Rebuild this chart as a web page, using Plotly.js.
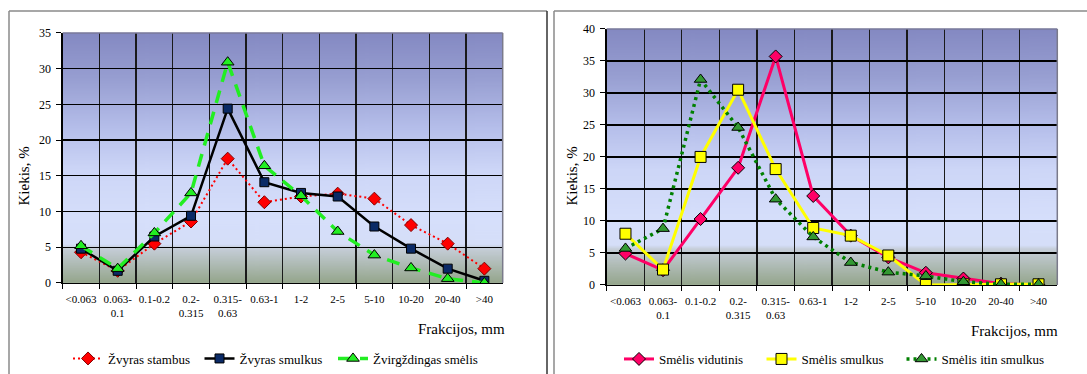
<!DOCTYPE html>
<html>
<head>
<meta charset="utf-8">
<script src="https://cdn.plot.ly/plotly-3.0.1.min.js"></script>
<style>
  html, body { margin: 0; padding: 0; background: #ffffff; }
  #chart { width: 1087px; height: 374px; }
</style>
</head>
<body>
<div id="chart"></div>
<script>
// ---------------- DATA ----------------
const categories = ['&lt;0.063', '0.063-<br>0.1', '0.1-0.2', '0.2-<br>0.315', '0.315-<br>0.63',
                    '0.63-1', '1-2', '2-5', '5-10', '10-20', '20-40', '&gt;40'];

// Left chart
const zvyrasStambus   = [4.3, 1.7, 5.5, 8.6, 17.4, 11.3, 12.1, 12.5, 11.8, 8.1, 5.5, 2.0];
const zvyrasSmulkus   = [4.8, 1.7, 6.5, 9.4, 24.4, 14.1, 12.6, 12.1, 7.9, 4.8, 2.0, 0.3];
const zvirgzdSmelis   = [5.2, 2.0, 7.0, 12.6, 30.9, 16.4, 12.2, 7.2, 3.9, 2.1, 0.6, 0.0];

// Right chart
const smelisVidutinis = [4.9, 2.3, 10.3, 18.3, 35.7, 13.9, 7.7, 4.3, 1.9, 1.0, 0.2, 0.0];
const smelisSmulkus   = [8.0, 2.4, 20.0, 30.5, 18.1, 8.9, 7.7, 4.6, 0.0, 0.1, 0.1, 0.1];
const smelisItin      = [5.7, 8.8, 32.1, 24.6, 13.4, 7.5, 3.5, 2.0, 1.4, 0.5, 0.1, 0.1];

const names = {
  l1: 'Žvyras stambus', l2: 'Žvyras smulkus', l3: 'Žvirgždingas smėlis',
  r1: 'Smėlis vidutinis', r2: 'Smėlis smulkus', r3: 'Smėlis itin smulkus'
};
const yTitle = 'Kiekis, %';
const xTitle = 'Frakcijos, mm';

// ---------------- HELPERS ----------------
const W = 1087, H = 374;
const px = v => v / W;
const py = v => 1 - v / H;

function gradientURL() {
  const c = document.createElement('canvas');
  c.width = 8; c.height = 400;
  const g = c.getContext('2d');
  const grd = g.createLinearGradient(0, 0, 0, 400);
  grd.addColorStop(0.00, '#8489C2');
  grd.addColorStop(0.18, '#979ED1');
  grd.addColorStop(0.38, '#B5BEEA');
  grd.addColorStop(0.55, '#CDD6F7');
  grd.addColorStop(0.75, '#D6DFFB');
  grd.addColorStop(0.845, '#D5DEF8');
  grd.addColorStop(0.86, '#C6CED9');
  grd.addColorStop(1.00, '#94A58B');
  g.fillStyle = grd;
  g.fillRect(0, 0, 8, 400);
  return c.toDataURL('image/png');
}
const bg = gradientURL();

const font = '"Liberation Serif", "Times New Roman", Times, serif';

function xAxis(domain, anchor) {
  return {
    domain: domain, anchor: anchor, type: 'category',
    range: [-0.5, 11.5], tickson: 'boundaries',
    showgrid: true, gridcolor: '#1a1a1a', gridwidth: 1.4,
    showline: true, linecolor: '#000', linewidth: 1.4,
    ticks: 'outside', ticklen: 5, tickcolor: '#000', tickwidth: 1,
    tickfont: { family: font, size: 11, color: '#000' },
    ticklabelstandoff: 5,
    tickangle: 0, automargin: false, fixedrange: true, zeroline: false
  };
}
function yAxis(domain, anchor, max) {
  return {
    domain: domain, anchor: anchor, range: [0, max], dtick: 5, tick0: 0,
    showgrid: true, gridcolor: '#000', gridwidth: 1.4,
    showline: true, linecolor: '#000', linewidth: 1.4,
    ticks: 'outside', ticklen: 5, tickcolor: '#000', tickwidth: 1,
    tickfont: { family: font, size: 12, color: '#000' },
    ticklabelstandoff: 3,
    automargin: false, fixedrange: true, zeroline: false
  };
}

// ---------------- TRACES ----------------
const traces = [
  { x: categories, y: zvyrasStambus, name: names.l1, xaxis: 'x', yaxis: 'y', legend: 'legend',
    mode: 'lines+markers', line: { color: '#FF0000', width: 2, dash: '2px,3px' },
    marker: { symbol: 'diamond', size: 10, color: '#FF0000', line: { color: '#800000', width: 1 } } },
  { x: categories, y: zvyrasSmulkus, name: names.l2, xaxis: 'x', yaxis: 'y', legend: 'legend2',
    mode: 'lines+markers', line: { color: '#000000', width: 2.5 },
    marker: { symbol: 'square', size: 9, color: '#0A2A66', line: { color: '#000', width: 1 } } },
  { x: categories, y: zvirgzdSmelis, name: names.l3, xaxis: 'x', yaxis: 'y', legend: 'legend3',
    mode: 'lines+markers', line: { color: '#22EE22', width: 3.5, dash: '13px,9px' },
    marker: { symbol: 'triangle-up', size: 11, color: '#22EE22', line: { color: '#000', width: 1 } } },

  { x: categories, y: smelisVidutinis, name: names.r1, xaxis: 'x2', yaxis: 'y2', legend: 'legend4',
    mode: 'lines+markers', line: { color: '#FF0066', width: 3 },
    marker: { symbol: 'diamond', size: 10, color: '#FF0066', line: { color: '#000', width: 1 } } },
  { x: categories, y: smelisSmulkus, name: names.r2, xaxis: 'x2', yaxis: 'y2', legend: 'legend5',
    mode: 'lines+markers', line: { color: '#FFFF00', width: 3 },
    marker: { symbol: 'square', size: 11, color: '#FFFF00', line: { color: '#000', width: 1 } } },
  { x: categories, y: smelisItin, name: names.r3, xaxis: 'x2', yaxis: 'y2', legend: 'legend6',
    mode: 'lines+markers', line: { color: '#008000', width: 3.5, dash: '3px,4px' },
    marker: { symbol: 'triangle-up', size: 11, color: '#339933', line: { color: '#000', width: 1 } } }
];

// ---------------- LAYOUT ----------------
const leftX = [px(62.7), px(502.7)], leftY = [py(283.7), py(33)];
const rightX = [px(606.7), px(1057.3)], rightY = [py(285.7), py(29)];

function line(x0, y0, x1, y1, color, w) {
  return { type: 'line', xref: 'paper', yref: 'paper', x0: px(x0), y0: py(y0), x1: px(x1), y1: py(y1),
           line: { color: color, width: w }, layer: 'above' };
}
function plotBorder(xr, yr) {
  return [
    { type: 'line', xref: xr + ' domain', yref: yr + ' domain', x0: 0, x1: 1, y0: 1, y1: 1,
      line: { color: '#7A7A9A', width: 1.5 }, layer: 'above' },
    { type: 'line', xref: xr + ' domain', yref: yr + ' domain', x0: 1, x1: 1, y0: 0, y1: 1,
      line: { color: '#7A7A8A', width: 1.5 }, layer: 'above' }
  ];
}

function legendAt(xpx, ypx) {
  return {
    orientation: 'h', xref: 'paper', yref: 'paper', xanchor: 'left', yanchor: 'middle',
    x: px(xpx), y: py(ypx),
    font: { family: font, size: 13, color: '#000' }, bgcolor: 'rgba(0,0,0,0)',
    itemwidth: 30, tracegroupgap: 0
  };
}

const layout = {
  width: W, height: H,
  margin: { l: 0, r: 0, t: 0, b: 0 },
  paper_bgcolor: '#ffffff', plot_bgcolor: 'rgba(0,0,0,0)',
  showlegend: true,
  xaxis: xAxis(leftX, 'y'),
  yaxis: yAxis(leftY, 'x', 35),
  xaxis2: xAxis(rightX, 'y2'),
  yaxis2: yAxis(rightY, 'x2', 40),
  legend: legendAt(68, 358.5),
  legend2: legendAt(199.5, 358.5),
  legend3: legendAt(333, 358.5),
  legend4: legendAt(619, 360),
  legend5: legendAt(761.5, 360),
  legend6: legendAt(901.5, 360),
  images: [
    { source: bg, xref: 'x domain', yref: 'y domain', x: 0, y: 1, sizex: 1, sizey: 1,
      xanchor: 'left', yanchor: 'top', sizing: 'stretch', layer: 'below' },
    { source: bg, xref: 'x2 domain', yref: 'y2 domain', x: 0, y: 1, sizex: 1, sizey: 1,
      xanchor: 'left', yanchor: 'top', sizing: 'stretch', layer: 'below' }
  ],
  shapes: [
    line(9, 11, 9, 380, '#8A8A8A', 1.5),
    line(9, 11, 547, 11, '#8A8A8A', 1.5),
    line(547, 11, 547, 380, '#333333', 1.5),
    line(554, 11, 554, 380, '#8A8A8A', 1.5),
    line(554, 11, 1090, 11, '#8A8A8A', 1.5)
  ].concat(plotBorder('x', 'y'), plotBorder('x2', 'y2')),
  annotations: [
    { text: xTitle, xref: 'paper', yref: 'paper', x: px(416), y: py(329.5), xanchor: 'left', yanchor: 'middle',
      showarrow: false, font: { family: font, size: 15, color: '#000' } },
    { text: xTitle, xref: 'paper', yref: 'paper', x: px(969), y: py(332), xanchor: 'left', yanchor: 'middle',
      showarrow: false, font: { family: font, size: 15, color: '#000' } },
    { text: yTitle, xref: 'paper', yref: 'paper', x: px(24), y: py(177), xanchor: 'center', yanchor: 'middle',
      textangle: -90, showarrow: false, font: { family: font, size: 15, color: '#000' } },
    { text: yTitle, xref: 'paper', yref: 'paper', x: px(572), y: py(177), xanchor: 'center', yanchor: 'middle',
      textangle: -90, showarrow: false, font: { family: font, size: 15, color: '#000' } }
  ]
};

Plotly.newPlot('chart', traces, layout, { displayModeBar: false, staticPlot: true });
</script>
</body>
</html>
